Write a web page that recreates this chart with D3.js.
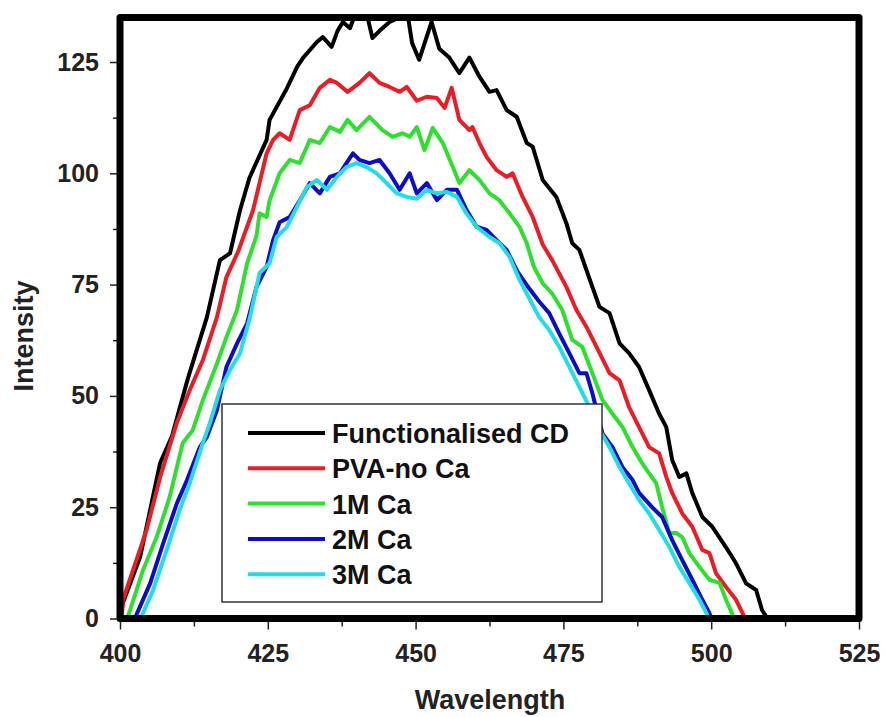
<!DOCTYPE html>
<html>
<head>
<meta charset="utf-8">
<script src="https://cdn.jsdelivr.net/npm/d3@7"></script>
<style>
  body { margin: 0; background: #fff; }
  svg { display: block; font-family: "Liberation Sans", Arial, sans-serif; font-weight: bold; }
</style>
</head>
<body>
<svg id="chart" width="886" height="717"></svg>
<script>
// series names and colours (legend order)
var seriesNames = ["Functionalised CD", "PVA-no Ca", "1M Ca", "2M Ca", "3M Ca"];
var seriesColors = ["#000000", "#ec1c24", "#2ee02e", "#0c0cc8", "#22dde8"];

var xTicks = [400, 425, 450, 475, 500, 525];
var yTicks = [0, 25, 50, 75, 100, 125];

// [wavelength, intensity]
var funcCD = [[400,0],[400.5,3.5],[403.4,13.8],[406.8,35],[408.8,41],[411.5,54],[414.7,67.7],[416.9,80.5],[418.6,82],[420.3,91.7],[421.9,99],[424.8,107.5],[425.3,112],[428.2,119],[430,124],[431,126],[433.3,129.5],[434.3,130.6],[435.8,128.4],[436.8,132],[437.7,134],[438.9,132.6],[440,136.5],[441.7,136],[442.7,130.4],[443.9,132],[445.6,134],[447.3,135],[448.5,137],[449.4,129.3],[450.6,125.5],[452.7,134],[454,128],[455.7,126],[457.4,122.5],[459.1,126],[460.8,121.7],[462.5,118.3],[463.7,118.7],[465.4,114.2],[467.1,112.7],[468.8,106.8],[469.8,106],[471.5,98.5],[473.8,94.7],[475.5,88.8],[476.5,84.3],[477.7,82.8],[479.9,74.5],[481.1,70],[482.8,68.6],[484.5,61.8],[486.1,59.6],[487.8,56.5],[489.5,51.3],[491.2,46],[492.4,43],[493.4,35.6],[494.6,31.8],[495.8,32.6],[496.8,28.2],[498.5,22.8],[500.2,20.6],[502.5,16],[504.2,12.4],[505.9,7.9],[507.6,6.4],[508.6,1.9],[509.5,0]];

var pvaNoCa = [[400.3,0],[400.5,4.2],[404.5,19.9],[406.8,31.8],[409.6,43.9],[411.8,51.3],[414,58],[416.4,67.7],[418,76.7],[420,82.5],[422.5,91.7],[424.8,104.5],[425.9,107.5],[427,109],[428.7,107.5],[430.4,114.2],[432.1,115.3],[433.8,119.2],[435.5,121],[436.7,120.3],[438.5,118.3],[440.5,120.3],[442.2,122.5],[443.9,120.3],[445.6,119.4],[447.3,118.3],[448.5,119.4],[450.2,116.3],[451.9,117.2],[453.6,116.9],[454.9,114.7],[456.1,119.2],[457.4,112],[459.1,109.7],[459.6,110.4],[460.8,106.8],[462,103.7],[463.7,100.7],[465.4,99.2],[466.4,100],[468.1,94.7],[469.8,90.2],[471.5,84],[473.1,80.5],[475.5,74.5],[477.2,69.3],[478.9,65.5],[480.6,61],[482.8,55.1],[484.5,53.5],[486.1,47.5],[487.8,43],[489.5,38.5],[491.2,37.1],[492.4,31.8],[493.4,28.2],[495.1,23.6],[496.8,20.6],[498.5,15.4],[499.7,14.7],[500.8,10.2],[502.5,7.1],[504.2,4.2],[505.3,1.2],[505.7,0]];

var ca1M = [[401.2,0],[401.7,1.9],[403.9,10.9],[406.2,18.3],[408.4,27.3],[410.6,39.4],[412.3,42.3],[414,49],[416.4,57.3],[418,63.2],[419.8,69.3],[421.5,79.8],[423.1,86],[423.6,91],[424.8,90.2],[425.3,93.9],[427,100],[428.7,103],[430.4,102.3],[432.1,107.5],[433.8,106.8],[435.5,110.4],[437.2,109.3],[438.5,112],[440,109.7],[442.2,112.7],[444.4,109.7],[446.1,108.2],[447.8,109],[449,108.2],[450.2,110.4],[451.5,105.2],[452.9,110.2],[454.6,106.8],[456.3,101.4],[457.4,97.8],[459.1,100.7],[460.8,98.5],[462.5,95.5],[464.2,93.9],[465.9,91],[467.6,87.9],[468.8,84.3],[470,79],[471.5,75.3],[473.1,73],[474.8,69.3],[476.5,62.6],[478.2,61],[479.9,55.1],[481.6,49.1],[483.3,46],[485,43],[486.7,38.5],[488.3,34.9],[489.5,32.6],[490.7,30.4],[491.7,25],[492.9,19.2],[494.1,19.2],[495.1,18.3],[496.3,14.7],[498,11.6],[499.7,8.7],[501.4,8],[502.5,4.2],[503.5,1.2],[503.8,0]];

var ca2M = [[402.5,0],[402.9,1.2],[405.1,7.9],[407.3,16.9],[409.6,25.8],[411.3,31],[413.5,38.5],[414.7,40.8],[416.4,46.8],[418,56.5],[419.8,61.8],[421.5,66.3],[423.1,74.5],[424.8,79],[425.9,85],[427,89],[428.7,90.2],[430.4,93.9],[432.1,97.8],[433.8,95.5],[435.5,99.2],[437.2,100],[438.3,102.3],[439.4,104.5],[440.5,103],[442.2,102.3],[443.9,103],[445.6,100],[447.3,96.3],[449,100],[450.2,95.5],[451.9,97.8],[453.6,94],[455.3,96.3],[457,96.3],[458.6,91.8],[460.3,88],[462,87.3],[463.7,85],[465.4,82.8],[467.2,78],[469,74.5],[470.9,71.2],[472.6,68.6],[474.3,64],[476,59.6],[477.7,55.1],[478.9,55.1],[479.9,50.6],[481.6,41.6],[483.3,38.5],[485,34],[486.7,31.1],[487.8,28.2],[490,25],[491.7,22.8],[493.4,17.6],[495.1,13.1],[496.8,8.7],[498.5,4.2],[499.7,1.2],[500,0]];

var ca3M = [[403.5,0],[403.9,1.2],[405.6,6.4],[407.9,15.4],[410.1,24.4],[411.8,30.4],[414,39.4],[415.2,43.9],[416.9,51.3],[418.6,55.8],[420.3,59.6],[422,67.7],[423.6,77.6],[425.3,79.8],[426.5,85.7],[428.2,87.9],[429.9,92.4],[431.6,96.9],[433.3,98.5],[435,96.3],[436.7,99.2],[438.3,101.4],[440,102.3],[441.7,101.4],[443.4,100],[445.1,97.8],[446.8,95.5],[448.5,94.7],[450.2,94.3],[451.9,96.3],[453.6,95.5],[455.3,95.8],[457,94.7],[458.6,91],[460.3,88],[462.5,85.7],[464.2,84.3],[465.9,81.2],[467.6,76],[469.2,72],[470.9,67.7],[472.6,64.8],[474.3,61],[476,56.5],[477.7,52],[479.4,47.5],[481.1,42.3],[482.8,38.5],[484.5,34],[486.1,30.4],[487.8,26.6],[489.5,23.6],[491.2,19.9],[492.9,16.1],[494.6,11.6],[496.3,8],[498,4.2],[499.2,1.2],[499.5,0]];

var allSeries = [funcCD, pvaNoCa, ca1M, ca2M, ca3M];

var svg = d3.select("#chart");
var plotL = 120, plotR = 859, plotT = 17.5, plotB = 618.5;

var x = d3.scaleLinear().domain([400, 525]).range([plotL, plotR]);
var y = d3.scaleLinear().domain([0, 135]).range([plotB, plotT]);

svg.append("clipPath").attr("id", "plotClip")
  .append("rect")
  .attr("x", plotL).attr("y", plotT)
  .attr("width", plotR - plotL).attr("height", plotB - plotT);

//minor ticks first, majors on top
var yMinor = d3.range(12.5, 135, 25);
var xMinor = d3.range(412.5, 525, 25);

svg.append("g")
  .attr("transform", "translate(" + plotL + ",0)")
  .call(d3.axisLeft(y).tickValues(yMinor).tickSize(7).tickFormat(""))
  .call(function(g){ g.select(".domain").remove(); })
  .selectAll("line").attr("stroke", "#222").attr("stroke-width", 1.5);

svg.append("g")
  .attr("transform", "translate(0," + plotB + ")")
  .call(d3.axisBottom(x).tickValues(xMinor).tickSize(8).tickFormat(""))
  .call(function(g){ g.select(".domain").remove(); })
  .selectAll("line").attr("stroke", "#222").attr("stroke-width", 1.5);

var yAxis = svg.append("g")
  .attr("transform", "translate(" + plotL + ",0)")
  .call(d3.axisLeft(y).tickValues(yTicks).tickSize(10).tickPadding(11));
yAxis.select(".domain").remove();
yAxis.selectAll("line").attr("stroke", "#222").attr("stroke-width", 1.5);
yAxis.selectAll("text")
  .attr("fill", "#222")
  .style("font-size", "25px")
  .style("font-family", "'Liberation Sans', Arial, sans-serif")
  .style("font-weight", "bold");

var xAxis = svg.append("g")
  .attr("transform", "translate(0," + plotB + ")")
  .call(d3.axisBottom(x).tickValues(xTicks).tickSize(11));
xAxis.select(".domain").remove();
xAxis.selectAll("line").attr("stroke", "#222").attr("stroke-width", 1.5);
xAxis.selectAll("text")
  .attr("y", 43).attr("dy", 0)
  .attr("fill", "#222")
  .style("font-size", "25px")
  .style("font-family", "'Liberation Sans', Arial, sans-serif")
  .style("font-weight", "bold");

// curves
var line = d3.line()
  .x(function(d){ return x(d[0]); })
  .y(function(d){ return y(d[1]); });

svg.append("g").attr("clip-path", "url(#plotClip)")
  .selectAll("path")
  .data(allSeries)
  .enter().append("path")
  .attr("d", line)
  .attr("fill", "none")
  .attr("stroke", function(d, i){ return seriesColors[i]; })
  .attr("stroke-width", 4)
  .attr("stroke-linejoin", "round")
  .attr("stroke-linecap", "round");

// frame
svg.append("rect")
  .attr("x", plotL).attr("y", plotT)
  .attr("width", plotR - plotL).attr("height", plotB - plotT)
  .attr("fill", "none")
  .attr("stroke", "#000")
  .attr("stroke-width", 7)
  .attr("stroke-linejoin", "round");

// legend
var legend = svg.append("g");
legend.append("rect")
  .attr("x", 222).attr("y", 404)
  .attr("width", 380).attr("height", 198)
  .attr("fill", "#fff")
  .attr("stroke", "#333")
  .attr("stroke-width", 1.5);

var rows = legend.selectAll("g.row")
  .data(seriesNames)
  .enter().append("g")
  .attr("class", "row")
  .attr("transform", function(d, i){ return "translate(0," + (433 + i * 35.3) + ")"; });

rows.append("line")
  .attr("x1", 248).attr("x2", 325)
  .attr("stroke", function(d, i){ return seriesColors[i]; })
  .attr("stroke-width", 4);

rows.append("text")
  .attr("x", 332).attr("y", 10)
  .attr("fill", "#111")
  .style("font-size", "27px")
  .text(function(d){ return d; });

// axis titles
svg.append("text")
  .attr("x", 490).attr("y", 709)
  .attr("text-anchor", "middle")
  .attr("fill", "#222")
  .style("font-size", "27px")
  .text("Wavelength");

svg.append("text")
  .attr("transform", "translate(33,336) rotate(-90)")
  .attr("text-anchor", "middle")
  .attr("fill", "#222")
  .style("font-size", "27px")
  .text("Intensity");
</script>
</body>
</html>
